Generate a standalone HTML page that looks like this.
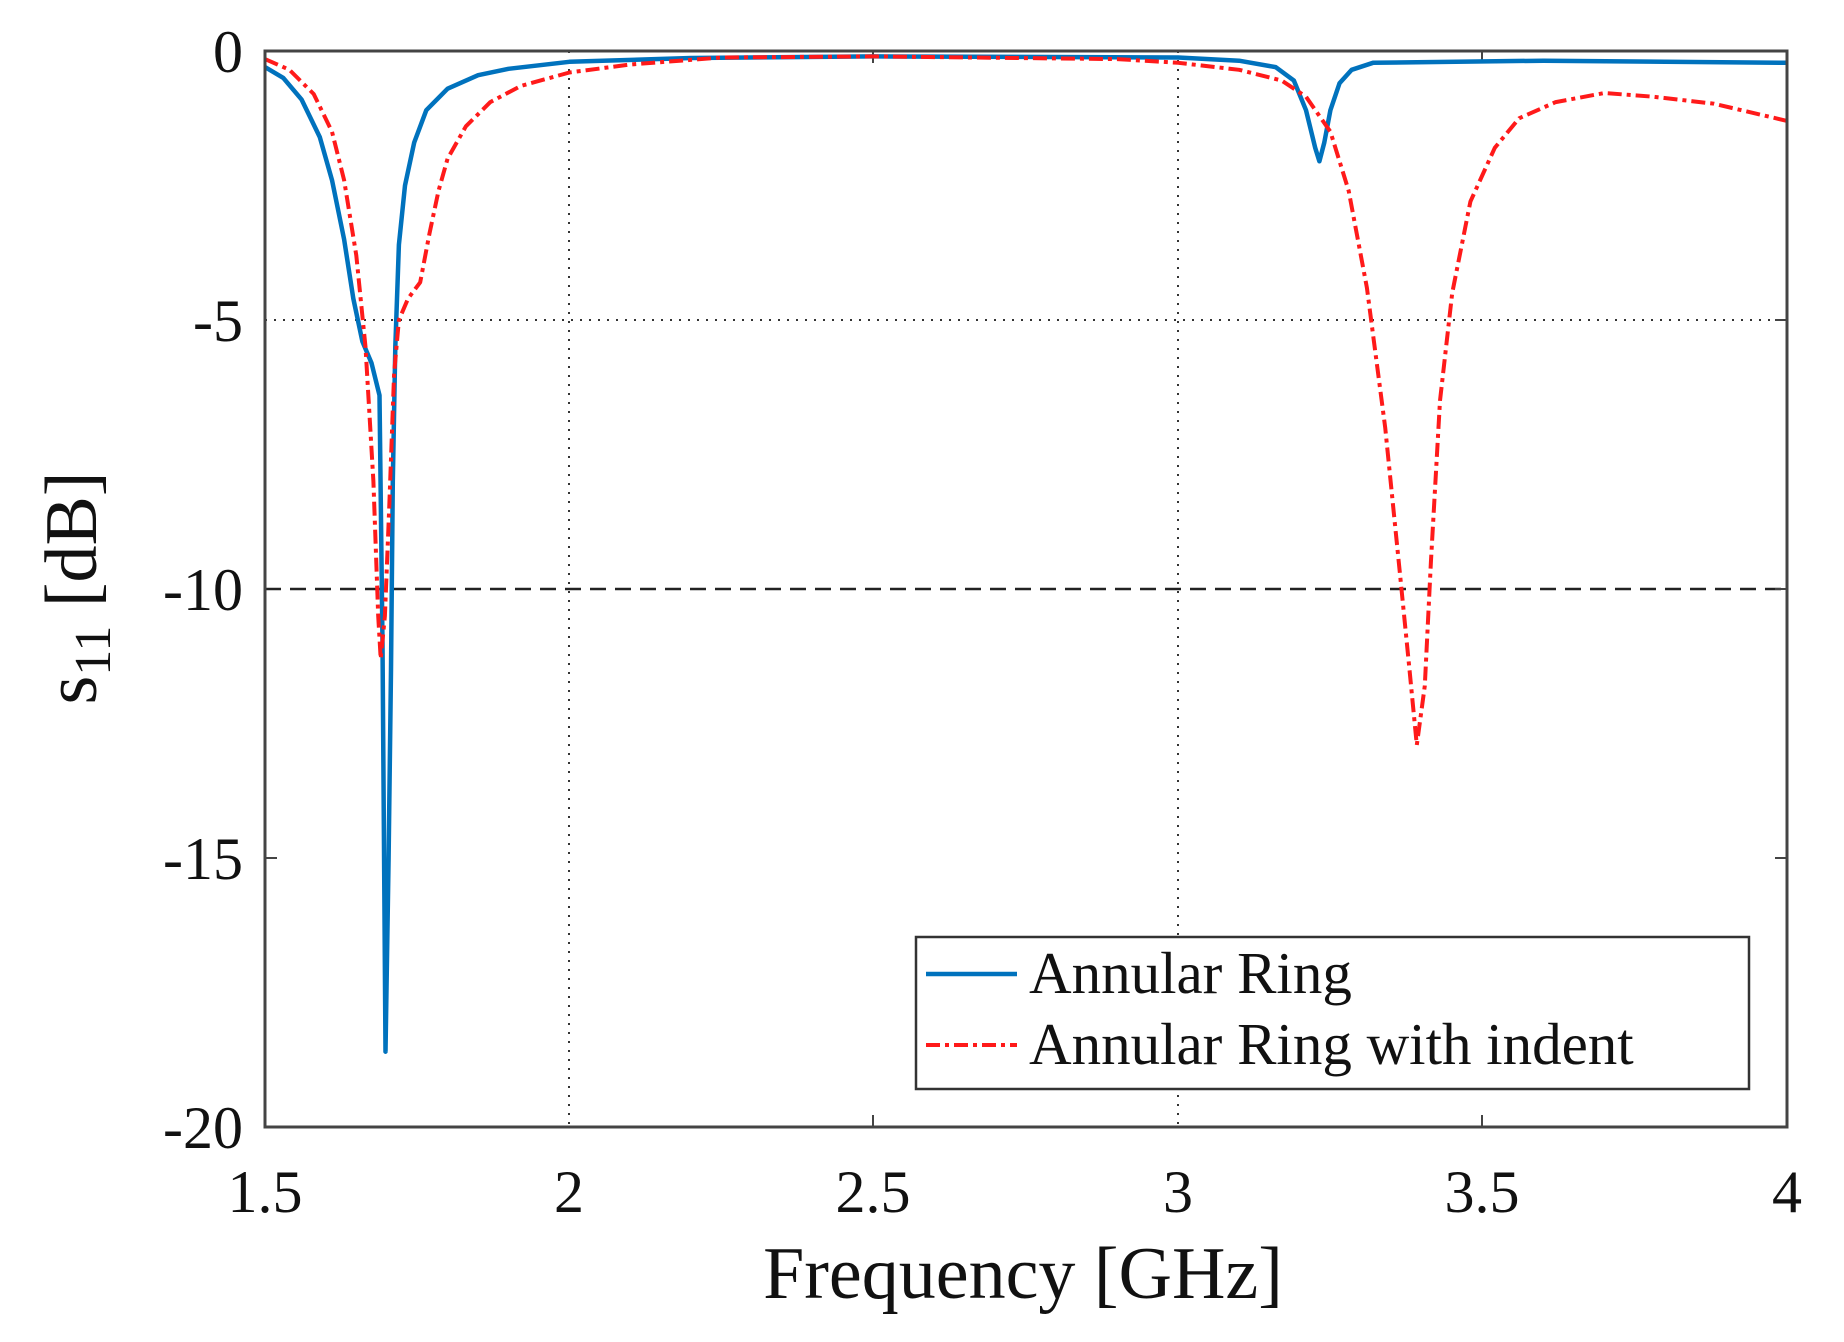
<!DOCTYPE html>
<html><head><meta charset="utf-8"><style>
html,body{margin:0;padding:0;background:#fff;}
svg{display:block;}
text{font-family:"Liberation Serif",serif;fill:#111;}
</style></head><body>
<svg id="s" width="1844" height="1342" xmlns="http://www.w3.org/2000/svg">
<rect width="1844" height="1342" fill="#fff"/>
<g stroke="#333" stroke-width="2" stroke-dasharray="2,7">
<line x1="569" y1="51" x2="569" y2="1127"/>
<line x1="1178" y1="51" x2="1178" y2="1127"/>
<line x1="265" y1="320" x2="1787" y2="320"/>
</g>
<line x1="265" y1="589" x2="1787" y2="589" stroke="#222" stroke-width="2.5" stroke-dasharray="16,9"/>
<g stroke="#444" stroke-width="2">
<line x1="873" y1="1127" x2="873" y2="1115"/><line x1="1482" y1="1127" x2="1482" y2="1115"/>
<line x1="873" y1="51" x2="873" y2="63"/><line x1="1482" y1="51" x2="1482" y2="63"/>
<line x1="265" y1="858" x2="277" y2="858"/><line x1="1787" y1="858" x2="1775" y2="858"/>
<line x1="1787" y1="320" x2="1775" y2="320"/><line x1="1787" y1="589" x2="1775" y2="589"/>
</g>
<path id="blue" fill="none" stroke="#0072bd" stroke-width="4.5" stroke-linejoin="round"/>
<path id="red" fill="none" stroke="#ff1a1a" stroke-width="4" stroke-dasharray="14,5,4,5" stroke-linejoin="round"/>
<rect x="265" y="51" width="1522" height="1076" fill="none" stroke="#444" stroke-width="3"/>
<g font-size="60" text-anchor="end">
<text x="243" y="72">0</text>
<text x="243" y="341">-5</text>
<text x="243" y="610">-10</text>
<text x="243" y="879">-15</text>
<text x="243" y="1148">-20</text>
</g>
<g font-size="60" text-anchor="middle">
<text x="265" y="1212">1.5</text>
<text x="569" y="1212">2</text>
<text x="873" y="1212">2.5</text>
<text x="1178" y="1212">3</text>
<text x="1482" y="1212">3.5</text>
<text x="1787" y="1212">4</text>
</g>
<text x="1023" y="1298" font-size="74" text-anchor="middle">Frequency [GHz]</text>
<text transform="translate(96,588) rotate(-90)" font-size="74" text-anchor="middle">s<tspan font-size="52" dy="14">11</tspan><tspan dy="-14"> [dB]</tspan></text>
<rect x="916" y="937" width="833" height="152" fill="#fff" stroke="#333" stroke-width="2.5"/>
<line x1="926" y1="974" x2="1017" y2="974" stroke="#0072bd" stroke-width="4.5"/>
<line x1="926" y1="1045" x2="1017" y2="1045" stroke="#ff1a1a" stroke-width="4" stroke-dasharray="14,5,4,5"/>
<text x="1029" y="993" font-size="59">Annular Ring</text>
<text x="1029" y="1064" font-size="59">Annular Ring with indent</text>
</svg>
<script>
function P(d){return d.map(function(p,i){var x=265+(p[0]-1.5)*608.8,y=51-p[1]*53.8;return (i?'L':'M')+x.toFixed(1)+','+y.toFixed(1);}).join('');}
var b=[[1.5,-0.3],[1.53,-0.5],[1.56,-0.9],[1.59,-1.6],[1.61,-2.4],[1.63,-3.5],[1.645,-4.6],[1.66,-5.4],[1.675,-5.8],[1.688,-6.4],[1.693,-11],[1.698,-18.6],[1.703,-15],[1.707,-11.5],[1.71,-8],[1.714,-5.5],[1.72,-3.6],[1.73,-2.5],[1.745,-1.7],[1.765,-1.1],[1.8,-0.7],[1.85,-0.45],[1.9,-0.33],[2,-0.2],[2.2,-0.13],[2.5,-0.1],[3,-0.12],[3.1,-0.18],[3.16,-0.3],[3.19,-0.55],[3.21,-1.1],[3.225,-1.8],[3.232,-2.05],[3.24,-1.7],[3.25,-1.1],[3.265,-0.6],[3.285,-0.35],[3.32,-0.22],[3.6,-0.18],[4,-0.22]];
var r=[[1.5,-0.15],[1.54,-0.35],[1.58,-0.8],[1.61,-1.5],[1.63,-2.4],[1.65,-3.8],[1.665,-5.5],[1.678,-8],[1.686,-10.5],[1.69,-11.3],[1.697,-10.5],[1.704,-8.5],[1.712,-6],[1.72,-5],[1.735,-4.6],[1.755,-4.3],[1.77,-3.4],[1.785,-2.6],[1.8,-2],[1.83,-1.4],[1.87,-0.95],[1.92,-0.65],[2,-0.4],[2.1,-0.25],[2.25,-0.12],[2.5,-0.1],[2.9,-0.15],[3,-0.22],[3.1,-0.35],[3.17,-0.55],[3.21,-0.85],[3.25,-1.5],[3.28,-2.6],[3.31,-4.4],[3.34,-7],[3.365,-9.8],[3.38,-11.5],[3.392,-12.9],[3.405,-11.8],[3.415,-9.5],[3.43,-6.5],[3.45,-4.5],[3.48,-2.8],[3.52,-1.8],[3.56,-1.25],[3.62,-0.95],[3.7,-0.78],[3.78,-0.85],[3.88,-0.98],[4,-1.3]];
document.getElementById('blue').setAttribute('d',P(b));
document.getElementById('red').setAttribute('d',P(r));
</script>
</body></html>
